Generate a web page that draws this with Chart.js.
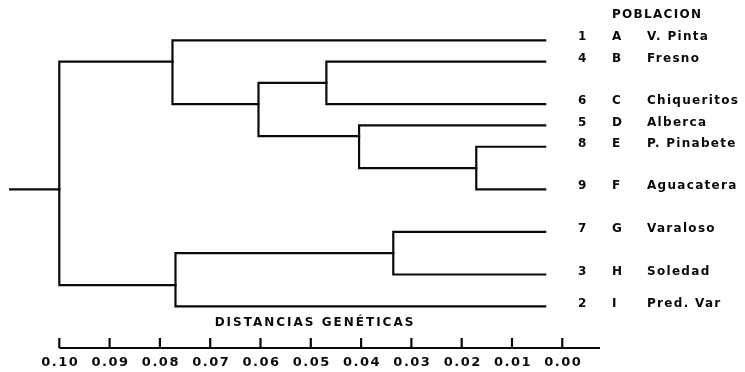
<!DOCTYPE html>
<html>
<head>
<meta charset="utf-8">
<script src="https://cdn.jsdelivr.net/npm/chart.js@4.4.0/dist/chart.umd.min.js"></script>
<style>
  html, body { margin: 0; padding: 0; background: #fff; }
  #wrap { width: 745px; height: 372px; }
</style>
</head>
<body>
<div id="wrap"><canvas id="dendro"></canvas></div>
<script>
// leaves (top to bottom)
var leafNums = ['1', '4', '6', '5', '8', '9', '7', '3', '2'];
var leafLetters = ['A', 'B', 'C', 'D', 'E', 'F', 'G', 'H', 'I'];
var leafNames = ['V. Pinta', 'Fresno', 'Chiqueritos', 'Alberca', 'P. Pinabete', 'Aguacatera', 'Varaloso', 'Soledad', 'Pred. Var'];
var leafRow = [0, 1, 3, 4, 5, 7, 9, 11, 12.5];
var leafDist = 0.0034;

// merges: node ids 0-8 are leaves, merges are 9, 10, ...
var mergeLeft = [4, 3, 1, 11, 0, 6, 14, 13];
var mergeRight = [5, 9, 2, 10, 12, 7, 8, 15];
var mergeDist = [0.0171, 0.0404, 0.0469, 0.0604, 0.0775, 0.0336, 0.0769, 0.100];
var mergeRow = [6, 4.5, 2, 3, 1, 10, 11.5, 7];
var rootStub = 0.11;

var tickValues = [0.10, 0.09, 0.08, 0.07, 0.06, 0.05, 0.04, 0.03, 0.02, 0.01, 0.00];
var axisEnd = -0.0075;

function nodeDist(id) { return id < 9 ? leafDist : mergeDist[id - 9]; }
function nodeRow(id) { return id < 9 ? leafRow[id] : mergeRow[id - 9]; }

var datasets = [];
for (var i = 0; i < mergeDist.length; i++) {
    var l = mergeLeft[i], r = mergeRight[i];
    datasets.push({
        data: [
            {x: nodeDist(l), y: nodeRow(l)},
            {x: mergeDist[i], y: nodeRow(l)},
            {x: mergeDist[i], y: nodeRow(r)},
            {x: nodeDist(r), y: nodeRow(r)}
        ]
    });
}
var root = mergeDist.length - 1;
datasets.push({
    data: [
        {x: mergeDist[root], y: mergeRow[root]},
        {x: rootStub, y: mergeRow[root]}
    ]
});
datasets.forEach(function(d) {
    d.borderColor = '#0a0a0a';
    d.borderWidth = 2.2;
    d.pointRadius = 0;
    d.tension = 0;
    d.fill = false;
    d.borderCapStyle = 'square';
});

var extras = {
    id: 'extras',
    afterDraw: function(chart) {
        var c = chart.ctx, xs = chart.scales.x, ys = chart.scales.y;
        var area = chart.chartArea;
        var axisY = area.bottom - 1;
        c.save();
        c.strokeStyle = '#0a0a0a';
        c.fillStyle = '#0a0a0a';
        c.lineWidth = 2.2;

        // axis line and upward ticks
        c.beginPath();
        c.moveTo(xs.getPixelForValue(tickValues[0]), axisY);
        c.lineTo(xs.getPixelForValue(axisEnd), axisY);
        tickValues.forEach(function(v) {
            var px = xs.getPixelForValue(v);
            c.moveTo(px, axisY);
            c.lineTo(px, axisY - 10);
        });
        c.stroke();

        c.font = 'bold 13px "DejaVu Sans", sans-serif';
        c.letterSpacing = '1.5px';
        c.textAlign = 'center';
        c.textBaseline = 'middle';
        tickValues.forEach(function(v) {
            c.fillText(v.toFixed(2), xs.getPixelForValue(v) + 1, axisY + 15);
        });

        c.font = 'bold 12px "DejaVu Sans", sans-serif';
        c.letterSpacing = '2px';
        c.fillText('DISTANCIAS GENÉTICAS', 315, 323);

        // leaf labels
        c.font = 'bold 12px "DejaVu Sans", sans-serif';
        c.letterSpacing = '1.3px';
        c.textAlign = 'left';
        c.fillText('POBLACION', 612, 15);
        for (var i = 0; i < leafNames.length; i++) {
            var py = ys.getPixelForValue(leafRow[i]) - 3;
            c.fillText(leafNums[i], 578, py);
            c.fillText(leafLetters[i], 612, py);
            c.fillText(leafNames[i], 647, py);
        }
        c.restore();
    }
};

var ctx = document.getElementById('dendro');
var dendro = new Chart(ctx, {
    type: 'line',
    data: { datasets: datasets },
    options: {
        responsive: true,
        maintainAspectRatio: false,
        animation: false,
        layout: { padding: { left: 9, right: 145, top: 19, bottom: 23 } },
        plugins: { legend: { display: false }, tooltip: { enabled: false } },
        scales: {
            x: { type: 'linear', reverse: true, min: axisEnd, max: rootStub, display: false },
            y: { type: 'linear', reverse: true, min: -1, max: 14.5, display: false }
        }
    },
    plugins: [extras]
});
</script>
</body>
</html>
